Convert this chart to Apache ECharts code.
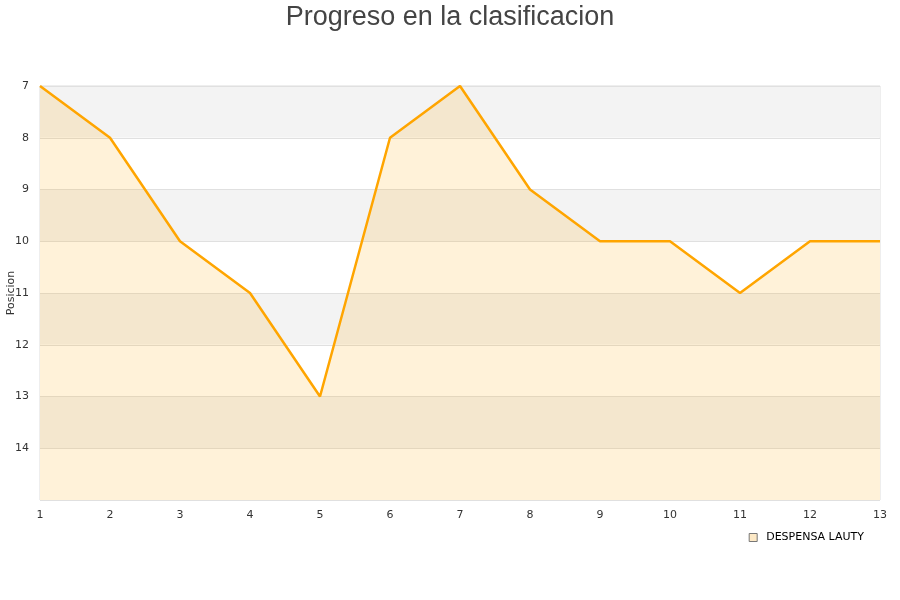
<!DOCTYPE html>
<html><head><meta charset="utf-8">
<script src="https://cdn.jsdelivr.net/npm/echarts@6/dist/echarts.min.js"></script>
<style>html,body{margin:0;padding:0;background:#fff}#c{width:900px;height:600px}</style>
</head><body><div id="c"></div>
<script>
const jornadas = ['1','2','3','4','5','6','7','8','9','10','11','12','13'];
const posiciones = [7, 8, 10, 11, 13, 8, 7, 9, 10, 10, 11, 10, 10];
const serieNombre = 'DESPENSA LAUTY';
const chart = echarts.init(document.getElementById('c'));
chart.setOption({
  animation: false,
  title: { text: 'Progreso en la clasificacion', left: 'center', top: -1,
    textStyle: { fontFamily: 'Liberation Sans, Arial', fontSize: 27, fontWeight: 'normal', color: '#444' } },
  grid: { left: 40, right: 20, top: 86, bottom: 100, show: true, borderColor: '#ddd', borderWidth: 1,
    containLabel: false, outerBoundsMode: 'none' },
  legend: { bottom: 52, right: 31, icon: 'rect', itemWidth: 8, itemHeight: 8, itemGap: 10,
    textStyle: { fontFamily: 'DejaVu Sans', fontSize: 11, color: '#000', padding: [0, 0, 0, 4] },
    data: [{ name: serieNombre, itemStyle: { color: '#fde9c6', borderColor: '#777', borderWidth: 1 } }] },
  xAxis: { type: 'category', data: jornadas, boundaryGap: false,
    axisLine: { show: false }, axisTick: { show: false },
    axisLabel: { fontFamily: 'DejaVu Sans', fontSize: 11, color: '#333', margin: 10 },
    splitLine: { show: false } },
  yAxis: { type: 'value', inverse: true, min: 7, max: 15, interval: 1,
    name: 'Posicion', nameLocation: 'middle', nameGap: 23, nameMoveOverlap: false,
    nameTextStyle: { fontFamily: 'DejaVu Sans', fontSize: 11, color: '#333' },
    axisLine: { show: false }, axisTick: { show: false },
    axisLabel: { fontFamily: 'DejaVu Sans', fontSize: 11, color: '#333', margin: 11,
      formatter: v => v === 15 ? '' : String(v) },
    splitLine: { show: true, lineStyle: { color: '#e0e0e0', width: 1 } },
    splitArea: { show: true, areaStyle: { color: ['#f3f3f3', '#ffffff'] } } },
  series: [{
    name: serieNombre, type: 'line', data: posiciones, showSymbol: false, symbol: 'none',
    lineStyle: { color: '#ffa500', width: 2.5 }, itemStyle: { color: '#ffa500' },
    areaStyle: { color: 'rgba(255,165,0,0.21)', origin: 'end' }
  }]
});
</script></body></html>
